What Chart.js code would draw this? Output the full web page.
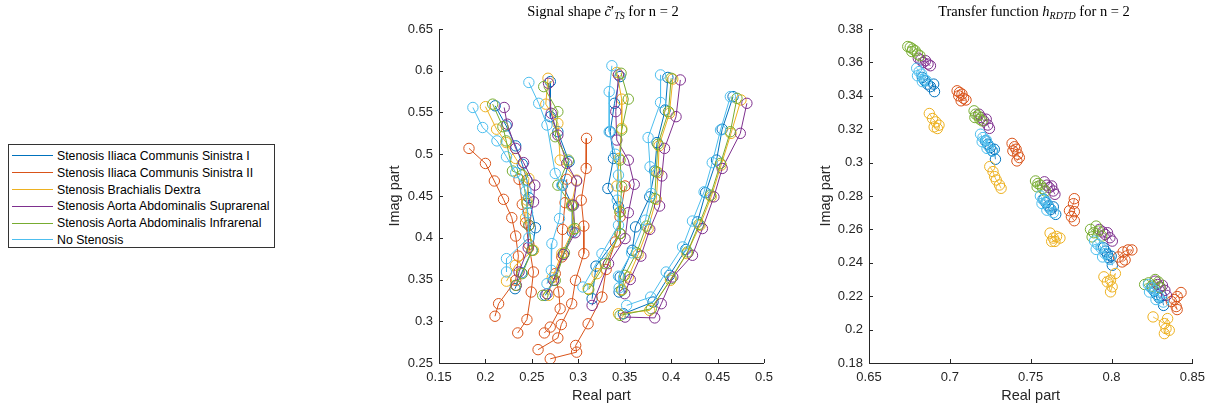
<!DOCTYPE html>
<html lang="en">
<head>
    <meta charset="UTF-8">
    <title>Signal shape and transfer function, n = 2</title>
    <style>
        body {
            margin: 0;
            width: 1218px;
            height: 410px;
            position: relative;
            background: #fff;
            font-family: "Liberation Sans", Arial, sans-serif;
            overflow: hidden;
        }
        .chart-box { position: absolute; top: 0; height: 410px; }
        .title {
            position: absolute;
            top: 3px;
            font-family: "Liberation Serif", "DejaVu Serif", serif;
            font-size: 14.5px;
            color: #000;
            white-space: nowrap;
            transform: translateX(-50%);
        }
        .title sub { font-size: 10px; vertical-align: -3px; }
        .legend {
            position: absolute;
            left: 8px;
            top: 144px;
            width: 267px;
            height: 104px;
            border: 1px solid #333;
            padding-top: 2.6px;
            box-sizing: border-box;
        }
        .legend .row {
            height: 16.8px;
            display: flex;
            align-items: center;
            font-size: 12.3px;
            color: #000;
            white-space: nowrap;
        }
        .legend .swatch { width: 41px; height: 0; margin-left: 3px; margin-right: 4px; border-top: 1.3px solid; }
    </style>
</head>
<body>
    <div class="chart-box" style="left:380px; width:400px;"><canvas id="signalChart"></canvas></div>
    <div class="chart-box" style="left:810px; width:402px;"><canvas id="transferChart"></canvas></div>
    <div class="title" style="left:603px;">Signal shape <i>c&#771;</i>&prime;<sub><i>TS</i></sub> for n = 2</div>
    <div class="title" style="left:1034px;">Transfer function <i>h</i><sub><i>RDTD</i></sub> for n = 2</div>
    <div class="legend" id="legend"></div>

    <script src="https://cdn.jsdelivr.net/npm/chart.js@4.4.1/dist/chart.umd.min.js"></script>
    <script>
        // series names and MATLAB default colours
        const seriesNames = [
            'Stenosis Iliaca Communis Sinistra I',
            'Stenosis Iliaca Communis Sinistra II',
            'Stenosis Brachialis Dextra',
            'Stenosis Aorta Abdominalis Suprarenal',
            'Stenosis Aorta Abdominalis Infrarenal',
            'No Stenosis'
        ];
        const seriesColors = ['#0072BD', '#D95319', '#EDB120', '#7E2F8E', '#77AC30', '#4DBEEE'];

        // tick values
        const signalXTicks = [0.15, 0.2, 0.25, 0.3, 0.35, 0.4, 0.45, 0.5];
        const signalYTicks = [0.25, 0.3, 0.35, 0.4, 0.45, 0.5, 0.55, 0.6, 0.65];
        const transferXTicks = [0.65, 0.7, 0.75, 0.8, 0.85];
        const transferYTicks = [0.18, 0.2, 0.22, 0.24, 0.26, 0.28, 0.3, 0.32, 0.34, 0.36, 0.38];

        // signal shape: [real, imag], null separates the curves
        const signalSinistraI = [
            [0.2105,0.558],[0.2224,0.534],[0.2326,0.510],[0.2397,0.488],[0.2447,0.469],[0.2468,0.448],[0.2539,0.412],[0.2503,0.385],[0.2390,0.358],[0.2319,0.339], null,
            [0.2699,0.587],[0.2699,0.545],[0.2780,0.527],[0.2901,0.491],[0.2830,0.463],[0.2936,0.439],[0.2936,0.407],[0.2840,0.380],[0.2734,0.349],[0.2645,0.331], null,
            [0.3450,0.593],[0.3390,0.561],[0.3344,0.527],[0.3379,0.495],[0.3319,0.459],[0.3433,0.437],[0.3450,0.405],[0.3191,0.366],[0.3149,0.327], null,
            [0.3965,0.592],[0.3936,0.553],[0.3848,0.514],[0.3823,0.480],[0.3770,0.449],[0.3617,0.413],[0.3582,0.385],[0.3451,0.353],[0.3440,0.335], null,
            [0.3486,0.309],[0.3805,0.323],[0.3982,0.355],[0.4159,0.386],[0.4284,0.419],[0.4372,0.454],[0.4489,0.493],[0.4550,0.530],[0.4667,0.569]
        ];
        const signalSinistraII = [
            [0.1823,0.507],[0.2000,0.489],[0.2096,0.468],[0.2195,0.446],[0.2284,0.424],[0.2326,0.402],[0.2355,0.378],[0.2326,0.349],[0.2142,0.321],[0.2103,0.306], null,
            [0.2362,0.470],[0.2397,0.440],[0.2433,0.418],[0.2468,0.392],[0.2517,0.359],[0.2493,0.335],[0.2447,0.302],[0.2348,0.286], null,
            [0.2876,0.470],[0.2858,0.442],[0.2830,0.410],[0.2823,0.377],[0.2752,0.357],[0.2790,0.335],[0.2805,0.315],[0.2698,0.293],[0.2635,0.286], null,
            [0.3089,0.519],[0.3085,0.483],[0.3032,0.445],[0.3060,0.414],[0.3060,0.381],[0.2970,0.349],[0.2929,0.321],[0.2817,0.296],[0.2780,0.280],[0.2567,0.266], null,
            [0.3504,0.462],[0.3450,0.425],[0.3400,0.395],[0.3300,0.362],[0.3255,0.329],[0.3106,0.297],[0.2972,0.271],[0.2982,0.263],[0.2698,0.255]
        ];
        const signalBrachialis = [
            [0.2000,0.557],[0.2120,0.530],[0.2224,0.514],[0.2326,0.495],[0.2468,0.471],[0.2447,0.445],[0.2433,0.424],[0.2518,0.385],[0.2323,0.367],[0.2227,0.348], null,
            [0.2674,0.591],[0.2650,0.560],[0.2780,0.537],[0.2805,0.493],[0.2982,0.469],[0.2929,0.440],[0.2947,0.410],[0.2823,0.381],[0.2720,0.352],[0.2681,0.331], null,
            [0.3415,0.598],[0.3468,0.566],[0.3468,0.531],[0.3440,0.495],[0.3415,0.462],[0.3450,0.431],[0.3450,0.405],[0.3202,0.357],[0.3106,0.339], null,
            [0.4018,0.590],[0.3982,0.549],[0.3870,0.510],[0.3860,0.478],[0.3840,0.446],[0.3752,0.411],[0.3645,0.380],[0.3539,0.353],[0.3470,0.338], null,
            [0.3433,0.309],[0.3769,0.313],[0.3993,0.349],[0.4170,0.381],[0.4312,0.415],[0.4432,0.449],[0.4539,0.487],[0.4645,0.525],[0.4752,0.565]
        ];
        const signalSuprarenal = [
            [0.2202,0.556],[0.2235,0.536],[0.2326,0.507],[0.2411,0.490],[0.2532,0.463],[0.2518,0.443],[0.2468,0.415],[0.2461,0.388],[0.2362,0.359],[0.2333,0.343], null,
            [0.2680,0.585],[0.2709,0.549],[0.2780,0.523],[0.2876,0.489],[0.2982,0.468],[0.2947,0.439],[0.2965,0.406],[0.2840,0.380],[0.2734,0.349],[0.2663,0.333], null,
            [0.3433,0.595],[0.3404,0.551],[0.3415,0.517],[0.3539,0.493],[0.3603,0.464],[0.3539,0.430],[0.3504,0.399],[0.3326,0.369],[0.3149,0.319], null,
            [0.4099,0.589],[0.4053,0.545],[0.3929,0.507],[0.3900,0.474],[0.3876,0.438],[0.3770,0.410],[0.3674,0.378],[0.3560,0.350],[0.3500,0.333], null,
            [0.3504,0.305],[0.3823,0.304],[0.3894,0.321],[0.4018,0.353],[0.4230,0.379],[0.4337,0.411],[0.4461,0.449],[0.4550,0.483],[0.4745,0.525],[0.4816,0.561]
        ];
        const signalInfrarenal = [
            [0.2078,0.560],[0.2188,0.533],[0.2224,0.516],[0.2291,0.480],[0.2397,0.475],[0.2447,0.441],[0.2468,0.415],[0.2503,0.385],[0.2397,0.357],[0.2326,0.343], null,
            [0.2628,0.581],[0.2780,0.551],[0.2752,0.521],[0.2894,0.493],[0.2780,0.463],[0.2929,0.438],[0.2965,0.411],[0.2851,0.382],[0.2752,0.349],[0.2617,0.331], null,
            [0.3461,0.597],[0.3539,0.566],[0.3468,0.529],[0.3450,0.493],[0.3468,0.461],[0.3450,0.431],[0.3450,0.405],[0.3291,0.369],[0.3113,0.338], null,
            [0.4000,0.591],[0.3972,0.551],[0.3858,0.512],[0.3840,0.479],[0.3823,0.447],[0.3734,0.414],[0.3628,0.382],[0.3500,0.355],[0.3468,0.337], null,
            [0.3450,0.307],[0.3787,0.315],[0.4000,0.351],[0.4177,0.383],[0.4301,0.416],[0.4425,0.451],[0.4532,0.489],[0.4638,0.527],[0.4709,0.567]
        ];
        const signalNoStenosis = [
            [0.1865,0.556],[0.1970,0.532],[0.2124,0.516],[0.2227,0.497],[0.2326,0.478],[0.2436,0.456],[0.2454,0.430],[0.2468,0.400],[0.2227,0.375],[0.2227,0.359], null,
            [0.2468,0.586],[0.2574,0.561],[0.2663,0.535],[0.2752,0.477],[0.2823,0.463],[0.2798,0.423],[0.2716,0.393],[0.2710,0.361],[0.2663,0.345], null,
            [0.3362,0.606],[0.3333,0.575],[0.3333,0.527],[0.3400,0.500],[0.3433,0.475],[0.3420,0.445],[0.3433,0.415],[0.3255,0.381],[0.3050,0.341], null,
            [0.3886,0.595],[0.3886,0.562],[0.3752,0.520],[0.3773,0.485],[0.3787,0.453],[0.3723,0.421],[0.3574,0.382],[0.3433,0.354],[0.3440,0.340], null,
            [0.3521,0.319],[0.3780,0.329],[0.3947,0.359],[0.4124,0.389],[0.4230,0.420],[0.4355,0.455],[0.4443,0.490],[0.4532,0.529],[0.4638,0.569]
        ];

        // transfer function: [real, imag], null separates the clusters
        const transferSinistraI = [
            [0.6830,0.3510],[0.6845,0.3490],[0.6862,0.3470],[0.6880,0.3455],[0.6900,0.3470],[0.6905,0.3425], null,
            [0.7220,0.3130],[0.7235,0.3110],[0.7250,0.3090],[0.7262,0.3070],[0.7275,0.3080],[0.7282,0.3020], null,
            [0.7582,0.2780],[0.7595,0.2760],[0.7610,0.2740],[0.7625,0.2720],[0.7640,0.2735],[0.7655,0.2690], null,
            [0.7950,0.2490],[0.7962,0.2470],[0.7975,0.2450],[0.7985,0.2430],[0.7998,0.2440],[0.8005,0.2385], null,
            [0.8252,0.2250],[0.8265,0.2230],[0.8280,0.2210],[0.8295,0.2190],[0.8310,0.2200],[0.8322,0.2145]
        ];
        const transferSinistraII = [
            [0.7045,0.3430],[0.7060,0.3420],[0.7055,0.3400],[0.7075,0.3410],[0.7085,0.3385],[0.7070,0.3370],[0.7100,0.3375], null,
            [0.7385,0.3115],[0.7400,0.3095],[0.7390,0.3070],[0.7410,0.3080],[0.7420,0.3050],[0.7430,0.3030],[0.7415,0.3010], null,
            [0.7770,0.2784],[0.7765,0.2754],[0.7740,0.2712],[0.7770,0.2706],[0.7752,0.2676],[0.7770,0.2652], null,
            [0.8043,0.2435],[0.8072,0.2465],[0.8102,0.2477],[0.8126,0.2477],[0.8084,0.2417],[0.8066,0.2405], null,
            [0.8430,0.2222],[0.8406,0.2198],[0.8388,0.2180],[0.8400,0.2138],[0.8406,0.2120],[0.8370,0.2168]
        ];
        const transferBrachialis = [
            [0.6873,0.3294],[0.6893,0.3264],[0.6913,0.3244],[0.6903,0.3214],[0.6923,0.3204],[0.6933,0.3224], null,
            [0.7247,0.2976],[0.7267,0.2946],[0.7277,0.2916],[0.7287,0.2896],[0.7307,0.2866],[0.7317,0.2846], null,
            [0.7620,0.2578],[0.7640,0.2548],[0.7660,0.2558],[0.7650,0.2528],[0.7630,0.2528],[0.7681,0.2548], null,
            [0.7953,0.2316],[0.7994,0.2296],[0.8024,0.2336],[0.8004,0.2256],[0.7994,0.2226],[0.7974,0.2286], null,
            [0.8257,0.2076],[0.8327,0.2036],[0.8347,0.2066],[0.8337,0.2006],[0.8327,0.1976],[0.8357,0.1996]
        ];
        const transferSuprarenal = [
            [0.6805,0.3625],[0.6820,0.3615],[0.6835,0.3600],[0.6850,0.3610],[0.6865,0.3590],[0.6880,0.3580], null,
            [0.7180,0.3290],[0.7195,0.3270],[0.7210,0.3250],[0.7225,0.3260],[0.7235,0.3225],[0.7245,0.3205], null,
            [0.7585,0.2885],[0.7600,0.2865],[0.7615,0.2850],[0.7630,0.2860],[0.7640,0.2830],[0.7650,0.2810], null,
            [0.7925,0.2600],[0.7945,0.2585],[0.7960,0.2570],[0.7975,0.2580],[0.7990,0.2550],[0.8005,0.2530], null,
            [0.8270,0.2290],[0.8285,0.2270],[0.8300,0.2255],[0.8315,0.2265],[0.8330,0.2235],[0.8340,0.2205]
        ];
        const transferInfrarenal = [
            [0.6740,0.3695],[0.6755,0.3690],[0.6770,0.3680],[0.6765,0.3665],[0.6785,0.3670],[0.6800,0.3650],[0.6815,0.3640], null,
            [0.7150,0.3310],[0.7160,0.3290],[0.7155,0.3270],[0.7175,0.3280],[0.7185,0.3260],[0.7200,0.3250], null,
            [0.7530,0.2890],[0.7545,0.2875],[0.7540,0.2855],[0.7560,0.2865],[0.7575,0.2845],[0.7590,0.2830], null,
            [0.7870,0.2600],[0.7890,0.2580],[0.7880,0.2555],[0.7905,0.2620],[0.7920,0.2590],[0.7940,0.2560], null,
            [0.8205,0.2270],[0.8230,0.2280],[0.8250,0.2260],[0.8270,0.2300],[0.8290,0.2285],[0.8300,0.2250]
        ];
        const transferNoStenosis = [
            [0.6795,0.3565],[0.6810,0.3545],[0.6800,0.3520],[0.6825,0.3530],[0.6840,0.3500],[0.6830,0.3485],[0.6855,0.3490], null,
            [0.7190,0.3170],[0.7205,0.3150],[0.7200,0.3125],[0.7225,0.3135],[0.7240,0.3100],[0.7230,0.3085],[0.7265,0.3070], null,
            [0.7560,0.2800],[0.7575,0.2780],[0.7570,0.2755],[0.7595,0.2765],[0.7615,0.2730],[0.7600,0.2715],[0.7640,0.2700], null,
            [0.7895,0.2530],[0.7915,0.2510],[0.7905,0.2480],[0.7935,0.2490],[0.7960,0.2455],[0.7945,0.2435],[0.7990,0.2420], null,
            [0.8228,0.2270],[0.8245,0.2250],[0.8235,0.2225],[0.8265,0.2235],[0.8290,0.2200],[0.8275,0.2180],[0.8320,0.2165]
        ];

        const signalSeries = [signalSinistraI, signalSinistraII, signalBrachialis, signalSuprarenal, signalInfrarenal, signalNoStenosis];
        const transferSeries = [transferSinistraI, transferSinistraII, transferBrachialis, transferSuprarenal, transferInfrarenal, transferNoStenosis];

        const axisColor = '#262626';

        // MATLAB style tick marks pointing into the axes
        const innerTicks = {
            id: 'innerTicks',
            afterDraw(chart) {
                const ctx = chart.ctx, area = chart.chartArea;
                const xs = chart.scales.x, ys = chart.scales.y;
                ctx.save();
                ctx.strokeStyle = axisColor;
                ctx.lineWidth = 1;
                ctx.beginPath();
                xs.ticks.forEach(t => {
                    const p = Math.round(xs.getPixelForValue(t.value)) + 0.5;
                    ctx.moveTo(p, area.bottom);
                    ctx.lineTo(p, area.bottom - 4);
                });
                ys.ticks.forEach(t => {
                    const p = Math.round(ys.getPixelForValue(t.value)) + 0.5;
                    ctx.moveTo(area.left, p);
                    ctx.lineTo(area.left + 4, p);
                });
                ctx.stroke();
                ctx.restore();
            }
        };

        function toPoints(arr) {
            return arr.map(p => p ? { x: p[0], y: p[1] } : { x: null, y: null });
        }

        function buildDatasets(series, lineWidth) {
            return series.map((s, i) => ({
                label: seriesNames[i],
                data: toPoints(s),
                borderColor: seriesColors[i],
                borderWidth: lineWidth,
                pointStyle: 'circle',
                pointRadius: 5.2,
                pointBorderWidth: 1,
                pointBorderColor: seriesColors[i],
                pointBackgroundColor: 'rgba(0,0,0,0)',
                fill: false,
                tension: 0,
                spanGaps: false,
                order: series.length - i
            }));
        }

        function axis(min, max, tickValues, title, isX, titlePad) {
            return {
                type: 'linear',
                min: min,
                max: max,
                afterBuildTicks: scale => { scale.ticks = tickValues.map(v => ({ value: v })); },
                afterFit: scale => { if (isX) scale.height = 47; else scale.width = 59; },
                grid: { display: false, drawTicks: false },
                border: { display: true, color: axisColor, width: 1 },
                ticks: {
                    color: axisColor,
                    padding: isX ? 7 : 6,
                    font: { family: 'Liberation Sans, Arial, sans-serif', size: 13 },
                    callback: v => String(+v.toFixed(2))
                },
                title: {
                    display: true,
                    text: title,
                    color: axisColor,
                    font: { family: 'Liberation Sans, Arial, sans-serif', size: 14.5 },
                    padding: isX ? { top: 0, bottom: 5 } : { top: titlePad, bottom: 0 }
                }
            };
        }

        function makeChart(id, series, lineWidth, xr, yr, xTicks, yTicks, yTitlePad) {
            return new Chart(document.getElementById(id), {
                type: 'line',
                data: { datasets: buildDatasets(series, lineWidth) },
                options: {
                    responsive: true,
                    maintainAspectRatio: false,
                    animation: false,
                    events: [],
                    layout: { padding: { top: 29, right: 13, left: 0, bottom: 0 } },
                    plugins: { legend: { display: false }, tooltip: { enabled: false } },
                    scales: {
                        x: axis(xr[0], xr[1], xTicks, 'Real part', true),
                        y: axis(yr[0], yr[1], yTicks, 'Imag part', false, yTitlePad)
                    }
                },
                plugins: [innerTicks]
            });
        }

        makeChart('signalChart', signalSeries, 1, [0.15, 0.5], [0.25, 0.65], signalXTicks, signalYTicks, 6.3);
        makeChart('transferChart', transferSeries, 0.8, [0.65, 0.85], [0.18, 0.38], transferXTicks, transferYTicks, 7.3);

        // legend box on the left
        const legend = document.getElementById('legend');
        seriesNames.forEach((name, i) => {
            const row = document.createElement('div');
            row.className = 'row';
            const sw = document.createElement('span');
            sw.className = 'swatch';
            sw.style.borderTopColor = seriesColors[i];
            const txt = document.createElement('span');
            txt.textContent = name;
            row.appendChild(sw);
            row.appendChild(txt);
            legend.appendChild(row);
        });
    </script>
</body>
</html>
